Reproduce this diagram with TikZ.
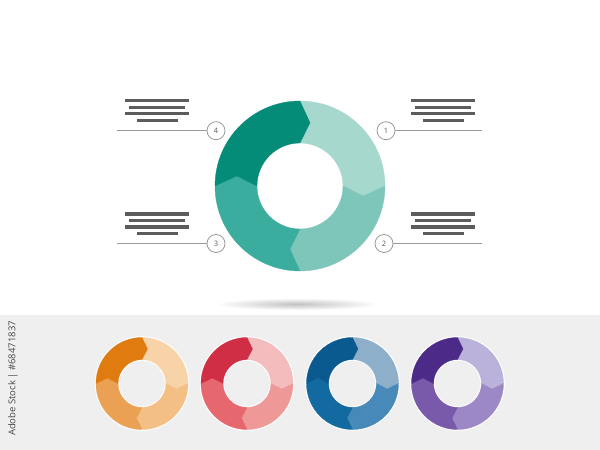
\documentclass[tikz,border=0pt]{standalone}
\usepackage{fontspec}
\setmainfont{Open Sans}
\definecolor{tA}{HTML}{A6D8CE}
\definecolor{tB}{HTML}{7FC6BA}
\definecolor{tC}{HTML}{3AAD9E}
\definecolor{tD}{HTML}{058C78}
\definecolor{oA}{HTML}{F8D3A8}
\definecolor{oB}{HTML}{F4BF85}
\definecolor{oC}{HTML}{EBA154}
\definecolor{oD}{HTML}{E07B10}
\definecolor{rA}{HTML}{F3BCBD}
\definecolor{rB}{HTML}{EE9898}
\definecolor{rC}{HTML}{E6676D}
\definecolor{rD}{HTML}{D02E45}
\definecolor{bA}{HTML}{8EAFC9}
\definecolor{bB}{HTML}{4789B8}
\definecolor{bC}{HTML}{136AA0}
\definecolor{bD}{HTML}{0B5A8F}
\definecolor{pA}{HTML}{BBB2DB}
\definecolor{pB}{HTML}{9D88C6}
\definecolor{pC}{HTML}{7859AA}
\definecolor{pD}{HTML}{4B2A88}
\definecolor{band}{HTML}{EFEFEF}
\definecolor{barc}{HTML}{5C5C5C}
\definecolor{linec}{HTML}{9A9A9A}
\newcommand\myseg[7]{%
  \fill[#7,draw=#7,line width=0.3pt,shift={(#1,#2)}]
    ({#6}:#3) arc[start angle=#6,end angle={#6-90},radius=#3]
    -- ({#6-99}:#5) -- ({#6-90}:#4)
    arc[start angle={#6-90},end angle=#6,radius=#4]
    -- ({#6-9}:#5) -- cycle;}
\newcommand\myring[9]{%
  \myseg{#1}{#2}{#3}{#4}{#5}{90}{#6}%
  \myseg{#1}{#2}{#3}{#4}{#5}{0}{#7}%
  \myseg{#1}{#2}{#3}{#4}{#5}{-90}{#8}%
  \myseg{#1}{#2}{#3}{#4}{#5}{180}{#9}}
\begin{document}
\begin{tikzpicture}[x=1pt,y=1pt,
  numc/.style={circle,draw=linec,line width=0.8pt,minimum size=18pt,inner sep=0pt,
    font=\fontsize{7.5}{8}\selectfont,text=black!65,fill=white},
  conn/.style={draw=linec,line width=0.8pt},
  barr/.style={fill=barc}]
\useasboundingbox (0,0) rectangle (600,450);
\fill[white] (0,0) rectangle (600,450);
% gray band
\fill[band] (0,0) rectangle (600,135);
% shadow
\shade[inner color=black!24,outer color=white] (297,146) ellipse[x radius=82,y radius=6];
% main ring
\myring{300}{264}{85}{43}{64}{tA}{tB}{tC}{tD}
% small rings
\foreach \cx/\a/\b/\c/\d in {142/oA/oB/oC/oD,247/rA/rB/rC/rD,352.5/bA/bB/bC/bD,457.5/pA/pB/pC/pD}{
  \fill[white,even odd rule] (\cx,66.5) circle[radius=47.3] (\cx,66.5) circle[radius=22.8];
  \myring{\cx}{66.5}{46}{24}{35}{\a}{\b}{\c}{\d}
}
% label circles
\node[numc] (c1) at (386,319.3) {1};
\node[numc] (c2) at (384,206.5) {2};
\node[numc] (c3) at (216,206.5) {3};
\node[numc] (c4) at (216,319.3) {4};
\coordinate (l1) at (482,319.3);
\coordinate (l2) at (482,206.5);
\coordinate (l3) at (117,206.5);
\coordinate (l4) at (117,319.3);
\draw[conn] (c1) -- (l1);
\draw[conn] (c2) -- (l2);
\draw[conn] (c3) -- (l3);
\draw[conn] (c4) -- (l4);
% text placeholder bars
\foreach \bx/\by in {157/0,443/0,157/-113.2,443/-113.2}{
  \begin{scope}[shift={(\bx,\by)}]
    \fill[barr] (-32,347.5) rectangle (32,351);
    \fill[barr] (-28,341) rectangle (28,344.3);
    \fill[barr] (-32,334.5) rectangle (32,338);
    \fill[barr] (-20.5,327.8) rectangle (20.5,331.3);
  \end{scope}
}
% vertical credit text
\node[rotate=90,font=\fontsize{9.5}{10}\selectfont,text=black!72] (credit) at (13,71.5) {Adobe Stock | \#68471837};
\end{tikzpicture}
\end{document}
